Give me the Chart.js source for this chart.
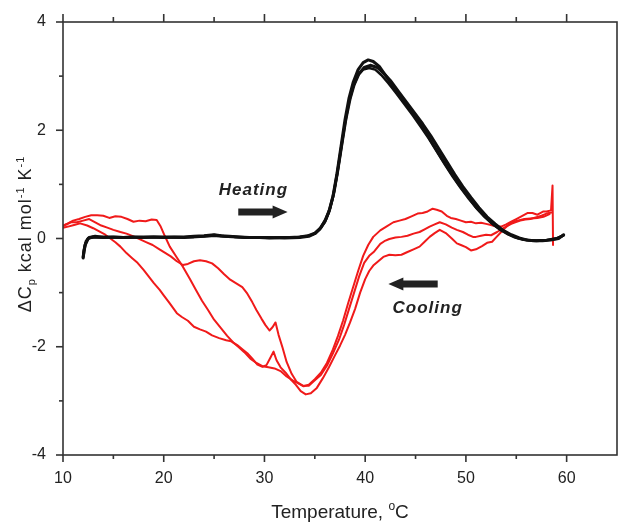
<!DOCTYPE html>
<html>
<head>
<meta charset="utf-8">
<script src="https://cdn.jsdelivr.net/npm/chart.js@4.4.1/dist/chart.umd.min.js"></script>
<style>
  html, body { margin: 0; padding: 0; background: #fff; }
  canvas { display: block; }
</style>
</head>
<body>
<canvas id="dsc" width="619" height="524"></canvas>
<script>
// Differential scanning calorimetry: excess heat capacity (kcal mol^-1 K^-1) vs temperature (°C)

// Axis ticks
const xMajor = [10, 20, 30, 40, 50, 60];
const xMinor = [15, 25, 35, 45, 55];
const yMajor = [-4, -2, 0, 2, 4];
const yMinor = [-3, -1, 1, 3];

// Heating scans: [temperature, ΔCp]
const heating1 = [
  [12.0,-0.36],[12.1,-0.2],[12.3,-0.05],[12.6,0.02],[13.2,0.04],[14,0.02],[15,0.03],[16,0.02],[17,0.03],
  [18,0.02],[19,0.03],[20,0.02],[21,0.03],[22,0.03],[23,0.04],[24,0.05],[25,0.07],[25.7,0.05],[26.5,0.04],
  [27.5,0.03],[28.5,0.02],[29.5,0.02],[30.5,0.01],[31.5,0.02],[32.5,0.02],[33.5,0.03],[34.3,0.05],[35.0,0.1],
  [35.5,0.18],[36.0,0.32],[36.4,0.5],[36.8,0.78],[37.2,1.2],[37.6,1.7],[38.0,2.2],[38.4,2.6],[38.8,2.88],
  [39.3,3.12],[39.8,3.25],[40.3,3.3],[40.8,3.27],[41.4,3.18],[42.0,3.02],[42.6,2.86],[43.5,2.62],[44.3,2.42],
  [45.1,2.22],[45.9,2.0],[46.7,1.75],[47.6,1.48],[48.5,1.22],[49.3,1.0],[50.2,0.78],[51.0,0.58],[51.8,0.42],
  [52.6,0.28],[53.5,0.16],[54.2,0.08],[54.9,0.02],[55.7,-0.02],[56.7,-0.04],[57.6,-0.04],[58.4,-0.03],
  [59.2,0.0],[59.7,0.07]
];
const heating2 = [
  [12.0,-0.34],[12.2,-0.12],[12.5,0.0],[13.0,0.03],[14,0.03],[16,0.02],[18,0.03],[20,0.03],[22,0.02],
  [24,0.04],[25,0.06],[26,0.04],[28,0.02],[30,0.02],[32,0.01],[33.5,0.02],[34.4,0.04],[35.1,0.1],[35.6,0.2],
  [36.1,0.36],[36.5,0.55],[36.9,0.85],[37.3,1.28],[37.7,1.76],[38.1,2.22],[38.5,2.58],[38.9,2.84],[39.4,3.05],
  [39.9,3.16],[40.5,3.2],[41.2,3.16],[41.8,3.06],[42.5,2.92],[43.3,2.72],[44.1,2.52],[44.9,2.32],[45.7,2.12],
  [46.5,1.9],[47.3,1.66],[48.1,1.42],[48.9,1.18],[49.7,0.96],[50.5,0.76],[51.3,0.57],[52.1,0.4],[52.9,0.27],
  [53.7,0.15],[54.5,0.07],[55.3,0.01],[56.1,-0.03],[57.0,-0.04],[58.0,-0.03],[59.0,0.0],[59.7,0.06]
];
const heating3 = [
  [12.0,-0.3],[12.2,-0.1],[12.5,0.01],[13.0,0.02],[15,0.02],[17,0.02],[19,0.02],[21,0.02],[23,0.03],
  [25,0.05],[27,0.03],[29,0.02],[31,0.02],[33,0.02],[34.2,0.04],[35.0,0.09],[35.5,0.17],[36.0,0.3],
  [36.4,0.48],[36.8,0.76],[37.2,1.16],[37.6,1.64],[38.0,2.12],[38.4,2.52],[38.8,2.8],[39.3,3.02],[39.8,3.12],
  [40.4,3.15],[41.0,3.12],[41.6,3.02],[42.3,2.87],[43.1,2.68],[43.9,2.48],[44.7,2.28],[45.5,2.07],[46.3,1.85],
  [47.1,1.61],[47.9,1.37],[48.7,1.14],[49.5,0.93],[50.3,0.73],[51.1,0.55],[51.9,0.39],[52.7,0.26],[53.5,0.15],
  [54.3,0.07],[55.1,0.01],[56.0,-0.03],[57.0,-0.04],[58.0,-0.03],[59.0,0.0],[59.6,0.05]
];

// Cooling scans: [temperature, ΔCp], recorded from high to low temperature
const cooling1 = [
  [58.65,-0.12],[58.6,0.98],[58.45,0.52],[58.0,0.5],[57.7,0.5],[57.1,0.44],[56.6,0.47],[56.1,0.47],[55.6,0.42],
  [55.0,0.36],[54.5,0.31],[54.0,0.26],[53.5,0.22],[53.0,0.22],[52.5,0.25],[52.0,0.27],[51.5,0.29],[51.0,0.28],
  [50.5,0.31],[50.0,0.3],[49.5,0.33],[49.0,0.36],[48.5,0.38],[48.1,0.42],[47.6,0.5],[47.1,0.53],[46.7,0.55],
  [46.2,0.5],[45.7,0.47],[45.2,0.46],[44.6,0.41],[44.0,0.36],[43.4,0.33],[42.8,0.3],[42.1,0.22],[41.5,0.15],
  [40.8,0.03],[40.3,-0.12],[39.8,-0.32],[39.3,-0.6],[38.8,-0.9],[38.3,-1.2],[37.8,-1.52],[37.3,-1.8],
  [36.8,-2.05],[36.2,-2.3],[35.6,-2.48],[35.0,-2.6],[34.4,-2.7],[33.9,-2.73],[33.4,-2.68],[32.8,-2.62],
  [32.2,-2.55],[31.6,-2.45],[31.0,-2.4],[30.4,-2.38],[29.8,-2.36],[29.2,-2.3],[28.6,-2.22],[28.0,-2.1],
  [27.4,-2.0],[26.9,-1.92],[26.3,-1.8],[25.7,-1.66],[25.0,-1.5],[24.4,-1.32],[23.8,-1.15],[23.2,-0.95],
  [22.6,-0.75],[21.9,-0.52],[21.3,-0.35],[20.6,-0.15],[20.1,0.05],[19.7,0.22],[19.3,0.34],[18.8,0.35],
  [18.2,0.32],[17.6,0.33],[17.0,0.31],[16.4,0.36],[15.8,0.4],[15.2,0.41],[14.6,0.38],[14.0,0.42],[13.4,0.43],
  [12.8,0.43],[12.2,0.4],[11.6,0.36],[11.0,0.33],[10.5,0.28],[10.0,0.24]
];
const cooling2 = [
  [58.5,0.48],[58.0,0.46],[57.5,0.42],[57.1,0.4],[56.4,0.36],[55.9,0.35],[55.4,0.33],[54.9,0.3],[54.5,0.27],
  [53.8,0.2],[53.1,0.12],[52.5,0.06],[52.0,0.07],[51.5,0.05],[51.0,0.03],[50.7,0.03],[50.2,0.07],[49.7,0.12],
  [49.1,0.16],[48.6,0.2],[48.0,0.26],[47.4,0.3],[46.9,0.26],[46.4,0.22],[45.9,0.17],[45.4,0.12],[44.8,0.09],
  [44.2,0.05],[43.6,0.03],[43.0,0.02],[42.4,-0.01],[41.9,-0.05],[41.5,-0.1],[40.9,-0.24],[40.4,-0.32],
  [39.9,-0.45],[39.4,-0.7],[38.9,-1.0],[38.4,-1.3],[37.9,-1.6],[37.4,-1.87],[36.8,-2.12],[36.2,-2.35],
  [35.6,-2.52],[35.0,-2.62],[34.4,-2.72],[33.8,-2.72],[33.2,-2.65],[32.7,-2.5],[32.2,-2.28],[31.8,-2.02],
  [31.4,-1.78],[31.1,-1.55],[30.8,-1.64],[30.5,-1.7],[30.1,-1.6],[29.7,-1.48],[29.2,-1.32],[28.8,-1.18],
  [28.3,-1.02],[27.8,-0.9],[27.2,-0.83],[26.6,-0.76],[26.0,-0.66],[25.4,-0.55],[24.8,-0.46],[24.2,-0.42],
  [23.6,-0.4],[23.0,-0.42],[22.4,-0.47],[21.9,-0.49],[21.3,-0.42],[20.7,-0.33],[20.1,-0.26],[19.5,-0.19],
  [18.9,-0.12],[18.3,-0.07],[17.6,-0.01],[17.0,0.04],[16.3,0.09],[15.7,0.12],[15.0,0.16],[14.4,0.2],
  [13.8,0.24],[13.2,0.3],[12.6,0.36],[12.0,0.33],[11.4,0.3],[10.8,0.3],[10.2,0.25],[10.0,0.22]
];
const cooling3 = [
  [58.3,0.45],[57.7,0.4],[57.1,0.38],[56.4,0.37],[55.8,0.36],[55.1,0.33],[54.7,0.31],[54.2,0.25],[53.8,0.18],
  [53.5,0.12],[53.0,0.02],[52.6,-0.06],[52.1,-0.08],[51.6,-0.14],[51.0,-0.2],[50.5,-0.22],[50.0,-0.16],
  [49.5,-0.12],[49.1,-0.09],[48.6,0.0],[48.0,0.1],[47.4,0.16],[46.9,0.1],[46.4,0.03],[45.9,-0.06],
  [45.4,-0.15],[44.8,-0.2],[44.2,-0.25],[43.6,-0.3],[43.0,-0.31],[42.4,-0.3],[41.8,-0.34],[41.3,-0.42],
  [40.8,-0.5],[40.4,-0.6],[40.0,-0.75],[39.5,-1.0],[39.0,-1.3],[38.5,-1.55],[38.0,-1.78],[37.5,-1.98],
  [37.0,-2.16],[36.4,-2.38],[35.8,-2.58],[35.2,-2.76],[34.6,-2.86],[34.1,-2.88],[33.6,-2.82],[33.1,-2.7],
  [32.6,-2.6],[32.1,-2.48],[31.6,-2.38],[31.2,-2.25],[30.9,-2.09],[30.6,-2.2],[30.2,-2.34],[29.8,-2.37],
  [29.3,-2.33],[28.8,-2.22],[28.3,-2.12],[27.9,-2.06],[27.3,-1.97],[26.7,-1.9],[26.2,-1.88],[25.5,-1.84],
  [24.8,-1.79],[24.2,-1.72],[23.6,-1.68],[23.0,-1.63],[22.4,-1.52],[21.8,-1.45],[21.3,-1.38],[20.6,-1.2],
  [20.0,-1.05],[19.6,-0.95],[19.0,-0.82],[18.5,-0.7],[18.0,-0.58],[17.4,-0.45],[16.9,-0.37],[16.3,-0.27],
  [15.7,-0.15],[15.2,-0.07],[14.7,0.0],[14.2,0.07],[13.6,0.13],[13.0,0.19],[12.4,0.24],[11.7,0.28],
  [11.1,0.25],[10.5,0.22],[10.0,0.2]
];

// Direction markers, in data units
const heatingNote = { text: 'Heating', x: 28.9, y: 0.89, arrowFrom: 27.4, arrowTo: 32.3, arrowY: 0.49 };
const coolingNote = { text: 'Cooling', x: 46.2, y: -1.29, arrowFrom: 47.2, arrowTo: 42.3, arrowY: -0.84 };

const FONT = '"Liberation Sans", Arial, sans-serif';
const AXIS = '#333';
const HEAT = '#101010';
const COOL = '#f01a1a';

const toXY = pts => pts.map(p => ({ x: p[0], y: p[1] }));
const series = (pts, color, width) => ({
  data: toXY(pts), showLine: true, borderColor: color, borderWidth: width,
  pointRadius: 0, fill: false, tension: 0, borderJoinStyle: 'round', borderCapStyle: 'round'
});

function drawArrow(ctx, x0, x1, yc, shaft, headLen, headH) {
  const dir = Math.sign(x1 - x0);
  const xb = x1 - dir * headLen;
  ctx.beginPath();
  ctx.moveTo(x0, yc - shaft / 2);
  ctx.lineTo(xb, yc - shaft / 2);
  ctx.lineTo(xb, yc - headH / 2);
  ctx.lineTo(x1, yc);
  ctx.lineTo(xb, yc + headH / 2);
  ctx.lineTo(xb, yc + shaft / 2);
  ctx.lineTo(x0, yc + shaft / 2);
  ctx.closePath();
  ctx.fill();
}

// Text with sub/superscript pieces: [text, size, baseline shift]
function drawRich(ctx, parts, cx, cy, angle, spacing) {
  ctx.save();
  ctx.translate(cx, cy);
  ctx.rotate(angle);
  ctx.textBaseline = 'alphabetic';
  ctx.textAlign = 'left';
  ctx.letterSpacing = (spacing || 0) + 'px';
  let total = 0;
  const widths = parts.map(([t, s]) => { ctx.font = s + 'px ' + FONT; const w = ctx.measureText(t).width; total += w; return w; });
  let x = -total / 2;
  parts.forEach(([t, s, dy], i) => {
    ctx.font = s + 'px ' + FONT;
    ctx.fillText(t, x, dy);
    x += widths[i];
  });
  ctx.restore();
}

const frame = {
  id: 'frame',
  afterDatasetsDraw(chart) {
    const { ctx, chartArea: a, scales: { x, y } } = chart;
    ctx.save();
    ctx.strokeStyle = AXIS;
    ctx.lineWidth = 1.6;
    ctx.strokeRect(a.left, a.top, a.right - a.left, a.bottom - a.top);
    const seg = (x1, y1, x2, y2) => { ctx.beginPath(); ctx.moveTo(x1, y1); ctx.lineTo(x2, y2); ctx.stroke(); };
    xMajor.forEach(v => { const p = x.getPixelForValue(v); seg(p, a.bottom, p, a.bottom + 7); seg(p, a.top, p, a.top - 8); });
    xMinor.forEach(v => { const p = x.getPixelForValue(v); seg(p, a.bottom, p, a.bottom + 4); seg(p, a.top, p, a.top - 5); });
    yMajor.forEach(v => { const p = y.getPixelForValue(v); seg(a.left - 7, p, a.left, p); });
    yMinor.forEach(v => { const p = y.getPixelForValue(v); seg(a.left - 4, p, a.left, p); });

    // direction markers
    ctx.fillStyle = '#222';
    [heatingNote, coolingNote].forEach(n => {
      drawArrow(ctx, x.getPixelForValue(n.arrowFrom), x.getPixelForValue(n.arrowTo), y.getPixelForValue(n.arrowY), 7, 15, 13);
      ctx.font = 'italic bold 17px ' + FONT;
      ctx.letterSpacing = '1px';
      ctx.textAlign = 'center';
      ctx.textBaseline = 'middle';
      ctx.fillText(n.text, x.getPixelForValue(n.x), y.getPixelForValue(n.y));
      ctx.letterSpacing = '0px';
    });

    // axis titles
    ctx.fillStyle = '#222';
    drawRich(ctx, [['Temperature, ', 19, 0], ['o', 12, -8], ['C', 19, 0]], (a.left + a.right) / 2, 518, 0, 0);
    drawRich(ctx, [['ΔC', 18, 0], ['p', 11, 4], [' kcal mol', 18, 0], ['-1', 11, -7], [' K', 18, 0], ['-1', 11, -7]],
      31, 234, -Math.PI / 2, 1);
    ctx.restore();
  }
};

new Chart(document.getElementById('dsc'), {
  type: 'scatter',
  data: {
    datasets: [
      series(heating1, HEAT, 3),
      series(heating2, HEAT, 3),
      series(heating3, HEAT, 2.5),
      series(cooling1, COOL, 2),
      series(cooling2, COOL, 2),
      series(cooling3, COOL, 2)
    ]
  },
  options: {
    responsive: false,
    animation: false,
    devicePixelRatio: 1,
    layout: { padding: { top: 22, right: 2, left: 0, bottom: 0 } },
    plugins: { legend: { display: false }, tooltip: { enabled: false } },
    scales: {
      x: {
        type: 'linear', min: 10, max: 65,
        afterBuildTicks: s => { s.ticks = xMajor.map(v => ({ value: v })); },
        afterFit: s => { s.height = 69; s.paddingLeft = 0; s.paddingRight = 0; },
        grid: { display: false, drawTicks: false },
        border: { display: false },
        ticks: { padding: 14, color: '#222', font: { family: FONT, size: 16 } }
      },
      y: {
        type: 'linear', min: -4, max: 4,
        afterBuildTicks: s => { s.ticks = yMajor.map(v => ({ value: v })); },
        afterFit: s => { s.width = 63; s.paddingTop = 0; s.paddingBottom = 0; },
        grid: { display: false, drawTicks: false },
        border: { display: false },
        ticks: { padding: 17, color: '#222', font: { family: FONT, size: 16 } }
      }
    }
  },
  plugins: [frame]
});
</script>
</body>
</html>
